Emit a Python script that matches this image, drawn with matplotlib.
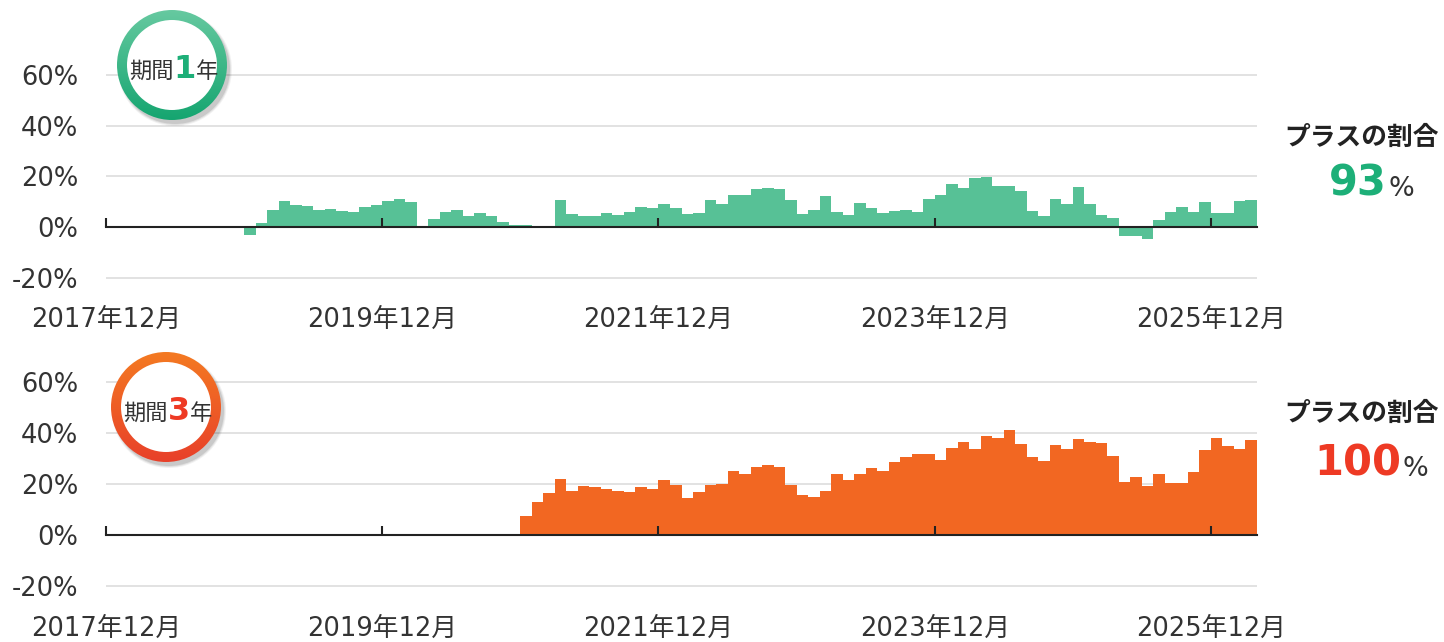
import matplotlib
matplotlib.use('Agg')
import matplotlib.pyplot as plt
from matplotlib.patches import Circle
from matplotlib.colors import LinearSegmentedColormap
import numpy as np

plt.rcParams['font.family'] = ['DejaVu Sans', 'Noto Sans CJK JP']

W, H = 1444, 642

# x axis counted in months from 2017年12月, axis ends at 2026年4月
n_months = 100
tick_pos = [0, 24, 48, 72, 96]
tick_labels = ['2017年12月', '2019年12月', '2021年12月', '2023年12月', '2025年12月']

yticks = [-20, 0, 20, 40, 60]
ytick_labels = ['-20%', '0%', '20%', '40%', '60%']

# 1-year returns (%), first bar 2018年12月
start_1y = 12
ret_1y = [-3.1, 1.4, 6.9, 10.3, 8.8, 8.2, 6.8, 7.3, 6.5, 5.9, 7.8, 8.8,
          10.3, 11.1, 9.7, 0.0, 3.0, 5.8, 6.7, 4.2, 5.4, 4.4, 2.0, 1.0,
          0.9, 0.5, 0.0, 10.7, 5.0, 4.3, 4.2, 5.4, 4.6, 5.8, 8.1, 7.5,
          9.2, 7.5, 5.1, 5.6, 10.8, 9.0, 12.7, 12.8, 15.0, 15.3, 15.0, 10.5,
          5.2, 6.8, 12.3, 6.0, 4.6, 9.3, 7.7, 5.5, 6.5, 6.8, 6.0, 11.1,
          12.8, 17.0, 15.6, 19.2, 19.9, 16.1, 16.2, 14.2, 6.4, 4.3, 11.1, 9.0,
          15.9, 9.2, 4.6, 3.7, -3.5, -3.4, -4.8, 2.6, 5.9, 8.1, 6.0, 9.8,
          5.6, 5.5, 10.3, 10.8]

# 3-year returns (%), first bar 2020年12月
start_3y = 36
ret_3y = [7.6, 13.1, 16.6, 22.0, 17.4, 19.4, 18.9, 18.1, 17.4, 16.9, 19.0, 18.1,
          21.6, 19.9, 14.7, 16.9, 19.8, 20.2, 25.4, 23.9, 26.9, 27.5, 26.7, 19.7,
          15.7, 15.2, 17.4, 24.0, 21.8, 24.2, 26.5, 25.4, 28.7, 30.7, 32.0, 32.0,
          29.6, 34.3, 36.6, 33.7, 39.1, 38.3, 41.2, 35.9, 30.8, 29.0, 35.5, 33.9,
          37.7, 36.7, 36.2, 31.2, 20.8, 22.7, 19.3, 23.9, 20.4, 20.7, 24.9, 33.6,
          38.1, 35.0, 33.7, 37.5]

share_1y = '93'
share_3y = '100'

GREEN_BAR = '#57c196'
ORANGE_BAR = '#f26722'
GREEN_TXT = '#1daf78'
RED_TXT = '#ee3a24'


def px_axes(fig, left, top, right, bottom):
    return fig.add_axes([left / W, 1 - bottom / H, (right - left) / W, (bottom - top) / H])


def draw_panel(ax, start, values, color):
    x = np.arange(start, start + len(values))
    ax.bar(x, values, width=1.0, align='edge', color=color, linewidth=0, zorder=2)
    for y in (-20, 20, 40, 60):
        ax.axhline(y, color='#dddddd', lw=1.2, zorder=1)
    ax.axhline(0, color='#222222', lw=1.5, zorder=3, clip_on=False)
    ax.vlines(tick_pos, 0, 3.5, color='#222222', lw=1.5, zorder=3, clip_on=False)
    ax.set_xlim(0, n_months)
    ax.set_ylim(-20.5, 60.5)
    ax.set_xticks(tick_pos, tick_labels)
    ax.set_yticks(yticks, ytick_labels)
    ax.tick_params(length=0, labelsize=18.5, colors='#333333')
    ax.tick_params(axis='x', pad=20)
    ax.tick_params(axis='y', pad=20)
    for s in ax.spines.values():
        s.set_visible(False)


def badge(ov, cx, cy, c_top, c_bottom, num, num_color, split):
    r_out, r_in = 55, 45
    # soft drop shadow
    for k, a in enumerate([0.10, 0.07, 0.05]):
        ov.add_patch(Circle((cx + 3, cy + 4), r_out + k, facecolor='#000000',
                            alpha=a, lw=0, zorder=2))
    ring = Circle((cx, cy), r_out, facecolor='none', lw=0, zorder=3)
    ov.add_patch(ring)
    grad = np.linspace(0, 1, 256)[:, None]
    cmap = LinearSegmentedColormap.from_list('ring', [c_top, c_bottom])
    im = ov.imshow(grad, cmap=cmap, origin='upper', aspect='auto', zorder=3,
                   extent=(cx - r_out, cx + r_out, cy + r_out, cy - r_out))
    im.set_clip_path(ring)
    ov.add_patch(Circle((cx, cy), r_in, facecolor='white', lw=0, zorder=4))
    base = cy + 13
    ov.text(split, base, '期間', ha='right', va='baseline', fontsize=16,
            family='Noto Sans CJK JP', color='#333333', zorder=5)
    ov.text(split + 11, base, num, ha='center', va='baseline', fontsize=23,
            fontweight='bold', color=num_color, zorder=5)
    ov.text(split + 22, base, '年', ha='left', va='baseline', fontsize=16,
            family='Noto Sans CJK JP', color='#333333', zorder=5)


def share_text(ov, cy_head, base, split, value, color):
    ov.text(1362, cy_head, 'プラスの割合', ha='center', va='center', fontsize=18.5,
            fontweight='bold', family='Noto Sans CJK JP', color='#222222')
    ov.text(split, base, value, ha='right', va='baseline', fontsize=30,
            fontweight='bold', color=color)
    ov.text(split + 2, base, '%', ha='left', va='baseline', fontsize=19.5,
            color='#333333')


fig = plt.figure(figsize=(W / 100, H / 100), dpi=100)

ax1 = px_axes(fig, 106, 73.7, 1257, 279)
draw_panel(ax1, start_1y, ret_1y, GREEN_BAR)

ax2 = px_axes(fig, 106, 381, 1257, 587.6)
draw_panel(ax2, start_3y, ret_3y, ORANGE_BAR)

# overlay in pixel coordinates for badges and side labels
ov = fig.add_axes([0, 0, 1, 1], zorder=10)
ov.set_facecolor('none')
badge(ov, 172, 65, '#66c9a0', '#15a570', '1', GREEN_TXT, 174)
badge(ov, 166, 407, '#f47a22', '#e8402a', '3', RED_TXT, 167.5)
share_text(ov, 137, 196, 1387, share_1y, GREEN_TXT)
share_text(ov, 413, 476, 1401, share_3y, RED_TXT)
ov.set_xlim(0, W)
ov.set_ylim(H, 0)
ov.axis('off')

fig.savefig('out.png', dpi=100)
